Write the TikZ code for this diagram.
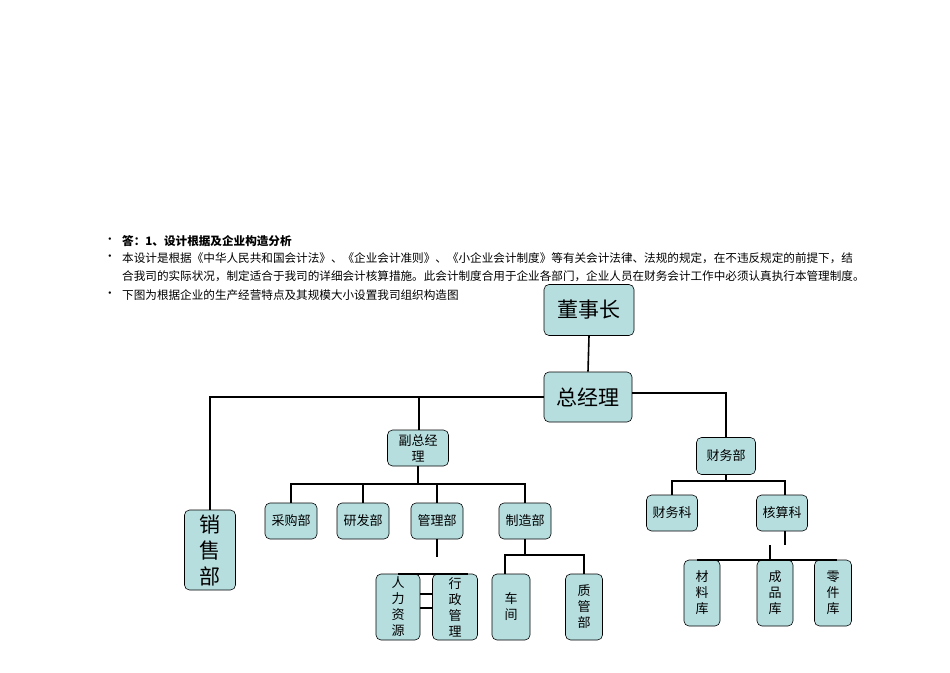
\documentclass[tikz,border=0pt]{standalone}
\usepackage{fontspec}
\setmainfont{Noto Sans CJK SC}
\usetikzlibrary{positioning}
\definecolor{boxfill}{HTML}{B7DEDF}
\tikzset{
 bx/.style={draw=black,fill=boxfill,rounded corners=5pt,inner sep=0pt,align=center,line width=0.6pt},
 ln/.style={line width=1.6pt},
 tx/.style={anchor=west,inner sep=0pt,font=\fontsize{11.6}{12}\selectfont},
}
\newcommand{\bxnode}[7]{\node[bx,minimum width=#4pt,minimum height=#5pt,font=\fontsize{#6}{#7}\selectfont] (#1) at (#2,#3)}
\begin{document}
\begin{tikzpicture}[x=1pt,y=-1pt]
\useasboundingbox (0,0) rectangle (950,672);
% text
\node[tx] (b1) at (104,241) {•};
\node[tx] (b2) at (104,258) {•};
\node[tx] (b4) at (104,295) {•};
\node[tx,font=\fontsize{11.6}{12}\selectfont\bfseries] (t1) at (122,241) {答：1、设计根据及企业构造分析};
\node[tx] (t2) at (122,258) {本设计是根据《中华人民共和国会计法》、《企业会计准则》、《小企业会计制度》等有关会计法律、法规的规定，在不违反规定的前提下，结};
\node[tx] (t3) at (122,276) {合我司的实际状况，制定适合于我司的详细会计核算措施。此会计制度合用于企业各部门，企业人员在财务会计工作中必须认真执行本管理制度。};
\node[tx] (t4) at (122,295) {下图为根据企业的生产经营特点及其规模大小设置我司组织构造图};
% boxes
\bxnode{dsz}{589}{310}{90}{51}{21}{24} {董事长};
\bxnode{zjl}{588}{397}{88}{50}{21}{24} {总经理};
\bxnode{fzjl}{418}{448}{61}{36}{13}{16} {副总经\\理};
\bxnode{cwb}{726}{456}{59}{37}{13}{16} {财务部};
\bxnode{xsb}{210}{550}{51}{80}{21}{26} {销\\售\\部};
\bxnode{cgb}{291}{521}{52}{36}{13}{16} {采购部};
\bxnode{yfb}{363}{521}{52}{36}{13}{16} {研发部};
\bxnode{glb}{437}{521}{52}{36}{13}{16} {管理部};
\bxnode{zzb}{525}{521}{52}{36}{13}{16} {制造部};
\bxnode{cwk}{672}{513}{51}{36}{13}{16} {财务科};
\bxnode{hsk}{782}{513}{51}{36}{13}{16} {核算科};
\bxnode{rlzy}{398}{607}{44}{66}{13}{16} {人\\力\\资\\源};
\bxnode{xzgl}{455}{607}{45}{66}{13}{16} {行\\政\\管\\理};
\bxnode{cj}{511}{607}{38}{66}{13}{16} {车\\间};
\bxnode{zgb}{584}{607}{37}{66}{13}{16} {质\\管\\部};
\bxnode{cll}{702}{593}{36}{66}{13}{16} {材\\料\\库};
\bxnode{cpk}{775}{593}{36}{66}{13}{16} {成\\品\\库};
\bxnode{ljk}{833}{593}{37}{66}{13}{16} {零\\件\\库};
% connectors
\draw[ln] (dsz.south) -- (zjl.north);
\draw[ln] (zjl.west |- 0,397) -| (xsb.north);
\draw[ln] (419,397) -- (fzjl.north -| 419,0);
\draw[ln] (zjl.east |- 0,393) -| (cwb.north);
\draw[ln] (fzjl.south) -- (418,484);
\draw[ln] (cgb.north) |- (zzb.north |- 0,484) -- (zzb.north);
\draw[ln] (yfb.north) -- (363,484);
\draw[ln] (glb.north) -- (437,484);
\draw[ln] (cwb.south) -- (726,481);
\draw[ln] (cwk.north) |- (785,481) -- (hsk.north -| 785,0);
\draw[ln] (glb.south) -- (437,557);
\draw[ln] (rlzy.north) |- (xzgl.north -| 468,0 |- 0,557) -- (xzgl.north -| 468,0);
\draw[ln] (zzb.south) -- (525,555);
\draw[ln] (cj.north -| 505,0) |- (zgb.north |- 0,555) -- (zgb.north);
\draw[ln] (hsk.south -| 785,0) -- (785,545);
\draw[ln] (cll.north -| 697,0) |- (ljk.north -| 837,0 |- 0,545) -- (ljk.north -| 837,0);
\draw[ln] (cpk.north -| 770,0) -- (770,545);
\draw[ln] (rlzy.east |- 0,594) -- (xzgl.west |- 0,594);
\draw[ln] (rlzy.east |- 0,608) -- (xzgl.west |- 0,608);
\end{tikzpicture}
\end{document}
